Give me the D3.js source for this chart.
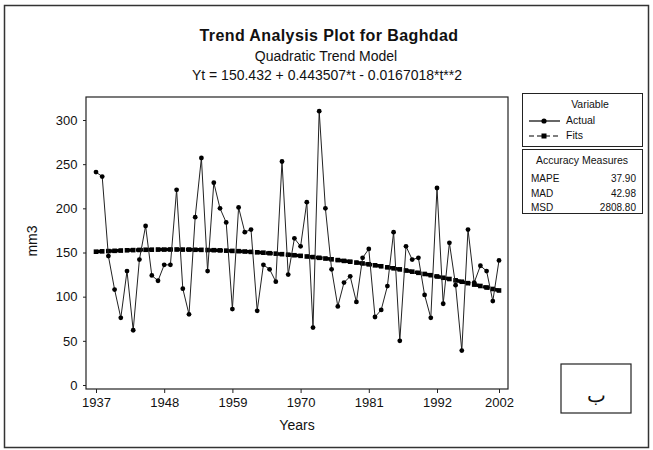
<!DOCTYPE html>
<html>
<head>
<meta charset="utf-8">
<script src="https://cdn.jsdelivr.net/npm/d3@7"></script>
<style>
  body { margin: 0; background: #fff; }
  text { font-family: "Liberation Sans", Arial, sans-serif; fill: #111; }
</style>
</head>
<body>
<div id="chart"></div>
<script>
// years 1937..2002
var years = d3.range(1937, 2003);

var actual = [241, 236, 146, 108, 76, 129, 62, 142, 180, 124,
  118, 136, 136, 221, 109, 80, 190, 257, 129, 229,
  200, 184, 86, 201, 173, 176, 84, 136, 131, 117,
  253, 125, 166, 157, 207, 65, 310, 200, 131, 89,
  116, 123, 94, 144, 154, 77, 85, 112, 173, 50,
  157, 142, 144, 102, 76, 223, 92, 161, 113, 39,
  176, 116, 135, 129, 95, 141];

// fitted values of the quadratic trend model (t = 1..66)
var fits = [150.9, 151.3, 151.6, 151.9, 152.2, 152.5, 152.7, 152.9, 153.1, 153.2,
  153.3, 153.3, 153.4, 153.4, 153.3, 153.3, 153.1, 153.0, 152.8, 152.6,
  152.4, 152.1, 151.8, 151.5, 151.1, 150.7, 150.2, 149.8, 149.2, 148.7,
  148.1, 147.5, 146.9, 146.2, 145.5, 144.8, 144.0, 143.2, 142.3, 141.4,
  140.5, 139.6, 138.6, 137.6, 136.6, 135.5, 134.4, 133.2, 132.1, 130.9,
  129.6, 128.3, 127.0, 125.7, 124.3, 122.9, 121.4, 120.0, 118.5, 116.9,
  115.3, 113.7, 112.1, 110.4, 108.7, 107.0];

var xTicks = [1937, 1948, 1959, 1970, 1981, 1992, 2002];
var yTicks = [0, 50, 100, 150, 200, 250, 300];

var accNames = ["MAPE", "MAD", "MSD"];
var accValues = ["37.90", "42.98", "2808.80"];

var W = 653, H = 450;
var svg = d3.select("#chart").append("svg")
  .attr("width", W).attr("height", H);

// outer frame
svg.append("rect").attr("x", 4.5).attr("y", 5.5).attr("width", 644).attr("height", 442)
  .attr("fill", "none").attr("stroke", "#333").attr("stroke-width", 1.5);

var box = { left: 86, right: 508, top: 97, bottom: 389 };

var x = d3.scaleLinear().domain([1937, 2002]).range([96, 499]);
var y = d3.scaleLinear().domain([0, 300]).range([385, 120]);

// plot frame
svg.append("rect")
  .attr("x", box.left).attr("y", box.top)
  .attr("width", box.right - box.left).attr("height", box.bottom - box.top)
  .attr("fill", "none").attr("stroke", "#222").attr("stroke-width", 1.2);

// axes
var xAxis = svg.append("g")
  .attr("transform", "translate(0," + box.bottom + ")")
  .call(d3.axisBottom(x).tickValues(xTicks).tickFormat(d3.format("d")).tickSize(4).tickSizeOuter(0));
xAxis.select(".domain").remove();
xAxis.selectAll("text").attr("font-size", 13).attr("dy", "0.85em");

var yAxis = svg.append("g")
  .attr("transform", "translate(" + box.left + ",0)")
  .call(d3.axisLeft(y).tickValues(yTicks).tickSize(3).tickSizeOuter(0));
yAxis.select(".domain").remove();
yAxis.selectAll("text").attr("font-size", 13).attr("dx", "-0.2em");

svg.selectAll(".tick line").attr("stroke", "#222");

// fits: dashed thick line with squares
var line = d3.line().x(function (d, i) { return x(years[i]); }).y(function (d) { return y(d); });

svg.append("path").datum(fits)
  .attr("d", line).attr("fill", "none").attr("stroke", "#000")
  .attr("stroke-width", 3.5).attr("stroke-dasharray", "7,3");

svg.selectAll(".fit").data(fits).enter().append("rect")
  .attr("class", "fit")
  .attr("x", function (d, i) { return x(years[i]) - 2.3; })
  .attr("y", function (d) { return y(d) - 2.3; })
  .attr("width", 4.6).attr("height", 4.6).attr("fill", "#000");

// actual
svg.append("path").datum(actual)
  .attr("d", line).attr("fill", "none").attr("stroke", "#222").attr("stroke-width", 1);

svg.selectAll(".act").data(actual).enter().append("circle")
  .attr("class", "act")
  .attr("cx", function (d, i) { return x(years[i]); })
  .attr("cy", function (d) { return y(d); })
  .attr("r", 2.4).attr("fill", "#000");

// titles
svg.append("text").attr("x", 329).attr("y", 41).attr("text-anchor", "middle")
  .attr("font-size", 16).attr("font-weight", "bold").attr("letter-spacing", 0.4)
  .text("Trend Analysis Plot for Baghdad");
svg.append("text").attr("x", 326).attr("y", 61).attr("text-anchor", "middle")
  .attr("font-size", 14).text("Quadratic Trend Model");
svg.append("text").attr("x", 327).attr("y", 80).attr("text-anchor", "middle")
  .attr("font-size", 14).text("Yt = 150.432 + 0.443507*t - 0.0167018*t**2");

svg.append("text").attr("x", 297).attr("y", 430).attr("text-anchor", "middle")
  .attr("font-size", 14).text("Years");
svg.append("text").attr("transform", "translate(37,241) rotate(-90)").attr("text-anchor", "middle")
  .attr("font-size", 14).text("mm3");

// legend
var lg = svg.append("g");
lg.append("rect").attr("x", 522.5).attr("y", 93.5).attr("width", 120).attr("height", 53)
  .attr("fill", "none").attr("stroke", "#222");
lg.append("text").attr("x", 590).attr("y", 108).attr("text-anchor", "middle")
  .attr("font-size", 10.5).text("Variable");
lg.append("line").attr("x1", 529).attr("x2", 560).attr("y1", 121).attr("y2", 121)
  .attr("stroke", "#000").attr("stroke-width", 1.2);
lg.append("circle").attr("cx", 544).attr("cy", 121).attr("r", 2.6).attr("fill", "#000");
lg.append("text").attr("x", 566).attr("y", 124).attr("font-size", 10.5).text("Actual");
lg.append("line").attr("x1", 529).attr("x2", 560).attr("y1", 136).attr("y2", 136)
  .attr("stroke", "#000").attr("stroke-width", 1.2).attr("stroke-dasharray", "5,3");
lg.append("rect").attr("x", 541.5).attr("y", 133.5).attr("width", 5).attr("height", 5).attr("fill", "#000");
lg.append("text").attr("x", 566).attr("y", 139).attr("font-size", 10.5).text("Fits");

// accuracy measures
var ac = svg.append("g");
ac.append("rect").attr("x", 522.5).attr("y", 149.5).attr("width", 120).attr("height", 64)
  .attr("fill", "none").attr("stroke", "#222");
ac.append("text").attr("x", 582).attr("y", 164).attr("text-anchor", "middle")
  .attr("font-size", 10.5).text("Accuracy Measures");
ac.selectAll(".an").data(accNames).enter().append("text")
  .attr("x", 531).attr("y", function (d, i) { return 182 + i * 14.5; })
  .attr("font-size", 10).text(function (d) { return d; });
ac.selectAll(".av").data(accValues).enter().append("text")
  .attr("x", 636).attr("y", function (d, i) { return 182 + i * 14.5; })
  .attr("text-anchor", "end").attr("font-size", 10).text(function (d) { return d; });

// small figure label box
svg.append("rect").attr("x", 561).attr("y", 364).attr("width", 70).attr("height", 49)
  .attr("fill", "none").attr("stroke", "#222").attr("stroke-width", 1.2);
svg.append("text").attr("x", 596).attr("y", 402).attr("text-anchor", "middle")
  .attr("font-family", "DejaVu Sans").attr("font-size", 20).text("ب");
</script>
</body>
</html>
